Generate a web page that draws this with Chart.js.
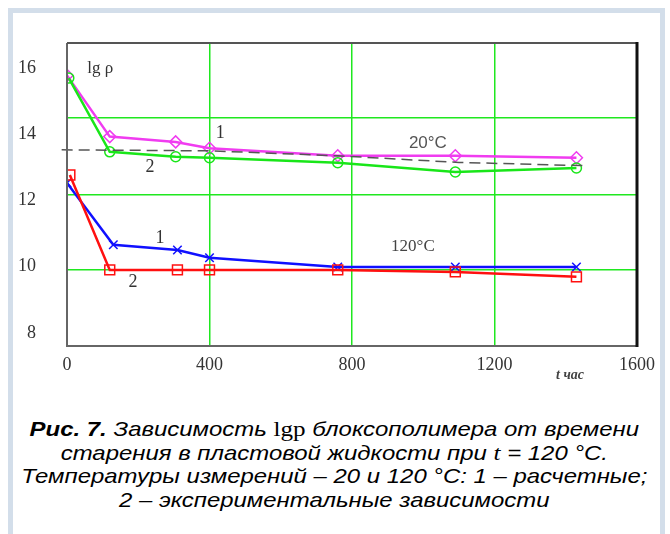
<!DOCTYPE html>
<html>
<head>
<meta charset="utf-8">
<script src="https://cdn.jsdelivr.net/npm/chart.js@4.4.1/dist/chart.umd.min.js"></script>
<style>
  body { margin: 0; background: #fff; width: 670px; height: 534px; overflow: hidden; position: relative; }
  #frame { position: absolute; left: 8px; top: 8px; width: 647px; height: 540px; border: 5px solid #d3deea; border-bottom: none; background: #fff; }
  #wrap { position: absolute; left: 0; top: 0; width: 670px; height: 400px; }
  #caption { position: absolute; left: 0; top: 417px; width: 670px; text-align: center;
    transform: scaleX(1.14); transform-origin: 340px 0;
    font-family: "Liberation Sans", Arial, sans-serif; font-style: italic; font-size: 21px; line-height: 23.5px; color: #000; }
  #caption .m { font-family: "Liberation Serif", serif; font-size: 22px; }
</style>
</head>
<body>
<div id="frame"></div>
<div id="wrap"><canvas id="myChart" width="670" height="400"></canvas></div>
<div id="caption">
  <b>Рис. 7.</b> Зависимость <span class="m" style="font-style:normal">lgp</span> блоксополимера от времени<br>
  старения в пластовой жидкости при <span class="m">t</span> = 120 °С.<br>
  Температуры измерений – 20 и 120 °С: 1 – расчетные;<br>
  2 – экспериментальные зависимости
</div>
<script>
// 20 °C
var t20calc = [0, 120, 305, 400, 760, 1090, 1430];
var lg20calc = [15.78, 13.93, 13.77, 13.58, 13.35, 13.35, 13.29];
var t20exp = [5, 120, 305, 400, 760, 1090, 1430];
var lg20exp = [15.7, 13.47, 13.32, 13.29, 13.14, 12.86, 12.98];
var tDash = [-15, 400, 760, 1100, 1460];
var lgDash = [13.53, 13.5, 13.35, 13.15, 13.05];
// 120 °C
var t120calc = [0, 130, 310, 400, 760, 1090, 1430];
var lg120calc = [12.53, 10.66, 10.5, 10.27, 9.99, 9.99, 9.99];
var t120exp = [8, 120, 310, 400, 760, 1090, 1430];
var lg120exp = [12.77, 9.9, 9.9, 9.9, 9.9, 9.84, 9.69];

var xTicks = [0, 400, 800, 1200, 1600];
var yTicks = [8, 10, 12, 14, 16];
var yGridVals = [9.9, 12.17, 14.5];
var xGridVals = [400, 800, 1200];

// text on the plot: [t, lg, text, font, colour]
var notes = [
  [93, 16.0, "lg ρ", "17px 'Liberation Serif'", "#333"],
  [430, 14.04, "1", "18px 'Liberation Serif'", "#333"],
  [233, 13.0, "2", "18px 'Liberation Serif'", "#333"],
  [1013, 13.74, "20°C", "17px 'Liberation Sans'", "#555"],
  [261, 10.87, "1", "18px 'Liberation Serif'", "#333"],
  [185, 9.54, "2", "18px 'Liberation Serif'", "#333"],
  [971, 10.6, "120°C", "17px 'Liberation Serif'", "#444"]
];

function pts(xs, ys) {
  var out = [];
  for (var i = 0; i < xs.length; i++) out.push({ x: xs[i], y: ys[i] });
  return out;
}

var green = "#1fe81f";

var framePlugin = {
  id: "frame",
  afterDraw: function(chart) {
    var a = chart.chartArea, c = chart.ctx;
    var xs = chart.scales.x, ys = chart.scales.y;
    c.save();
    c.lineWidth = 2;
    c.strokeStyle = "#666";
    c.beginPath();
    c.moveTo(a.left, a.top); c.lineTo(a.left, a.bottom); c.lineTo(a.right, a.bottom);
    c.stroke();
    c.strokeStyle = "#555";
    c.beginPath(); c.moveTo(a.left, a.top); c.lineTo(a.right, a.top); c.stroke();
    c.lineWidth = 3;
    c.strokeStyle = "#111";
    c.beginPath(); c.moveTo(a.right, a.top - 1); c.lineTo(a.right, a.bottom + 1); c.stroke();
    c.textAlign = "center";
    c.textBaseline = "middle";
    notes.forEach(function(n) {
      c.font = n[3];
      c.fillStyle = n[4];
      c.fillText(n[2], xs.getPixelForValue(n[0]), ys.getPixelForValue(n[1]));
    });
    c.font = "italic bold 14px 'Liberation Serif'";
    c.fillStyle = "#444";
    c.fillText("t час", xs.getPixelForValue(1412), a.bottom + 29);
    c.restore();
  }
};

new Chart("myChart", {
  type: "line",
  data: {
    datasets: [{
      data: pts(tDash, lgDash),
      borderColor: "#555",
      borderWidth: 1.5,
      borderDash: [11, 6],
      pointRadius: 0,
      clip: 8,
      fill: false
    }, {
      data: pts(t20exp, lg20exp),
      borderColor: "#19e619",
      borderWidth: 2.5,
      pointStyle: "circle",
      pointRadius: 5,
      pointBorderWidth: 1.5,
      pointBackgroundColor: "rgba(0,0,0,0)",
      fill: false
    }, {
      data: pts(t20calc, lg20calc),
      borderColor: "#f03cf0",
      borderWidth: 2.5,
      pointStyle: "rectRot",
      pointRadius: 6,
      pointBorderWidth: 1.5,
      pointBackgroundColor: "rgba(0,0,0,0)",
      fill: false
    }, {
      data: pts(t120exp, lg120exp),
      borderColor: "#ff1010",
      borderWidth: 2.5,
      pointStyle: "rect",
      pointRadius: 7,
      pointBorderWidth: 1.5,
      pointBackgroundColor: "rgba(0,0,0,0)",
      fill: false
    }, {
      data: pts(t120calc, lg120calc),
      borderColor: "#1010ff",
      borderWidth: 2.5,
      pointStyle: "crossRot",
      pointRadius: 6,
      pointBorderWidth: 1.5,
      fill: false
    }]
  },
  options: {
    responsive: false,
    animation: false,
    devicePixelRatio: 1,
    layout: { padding: { top: 43, right: 33, left: 0, bottom: 0 } },
    plugins: { legend: { display: false }, tooltip: { enabled: false } },
    scales: {
      x: {
        type: "linear",
        min: 0,
        max: 1600,
        afterFit: function(s) { s.height = 54; },
        afterBuildTicks: function(s) { s.ticks = xTicks.map(function(v) { return { value: v }; }); },
        ticks: {
          padding: 8,
          color: "#333",
          font: { family: "Liberation Serif", size: 18 },
          callback: function(v) { return String(v); }
        },
        border: { display: false },
        grid: {
          drawTicks: false,
          lineWidth: 1.5,
          color: function(ctx) { return xGridVals.indexOf(ctx.tick.value) >= 0 ? green : "rgba(0,0,0,0)"; }
        }
      },
      y: {
        min: 7.6,
        max: 16.76,
        position: "left",
        afterFit: function(s) { s.width = 67; },
        afterBuildTicks: function(s) { s.ticks = yTicks.map(function(v) { return { value: v }; }); },
        ticks: { padding: 23, color: "#333", font: { family: "Liberation Serif", size: 18 } },
        border: { display: false },
        grid: { display: false }
      },
      yg: {
        min: 7.6,
        max: 16.76,
        position: "left",
        afterFit: function(s) { s.width = 0; },
        afterBuildTicks: function(s) { s.ticks = yGridVals.map(function(v) { return { value: v }; }); },
        ticks: { display: false },
        border: { display: false },
        grid: { drawTicks: false, color: green, lineWidth: 1.5 }
      }
    }
  },
  plugins: [framePlugin]
});
</script>
</body>
</html>
